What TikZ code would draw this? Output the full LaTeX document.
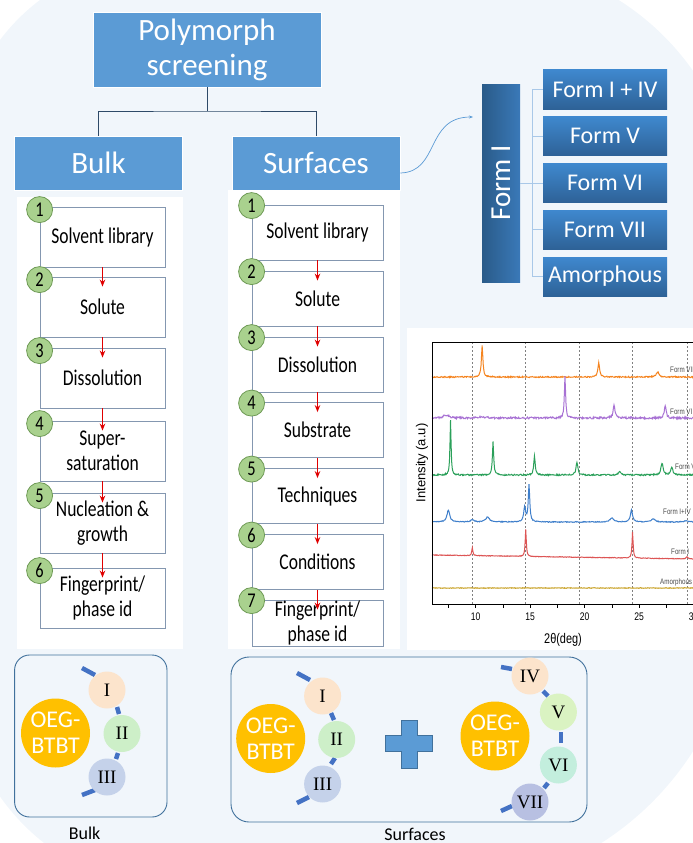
\documentclass[tikz,border=0pt]{standalone}
\usepackage{fontspec}
\setmainfont{Carlito}
\newfontfamily\stepfont[FakeStretch=0.78]{Carlito}
\newfontfamily\romanfont{Liberation Serif}
\newfontfamily\chartfont[FakeStretch=0.78]{Liberation Sans}
\newfontfamily\chartplain{Liberation Sans}
\usetikzlibrary{arrows.meta}

\definecolor{bgblue}{HTML}{F1F6FB}
\definecolor{headblue}{HTML}{5B9BD5}
\definecolor{formtop}{HTML}{3F88CE}
\definecolor{formbot}{HTML}{2E6297}
\definecolor{formItop}{HTML}{3A79B8}
\definecolor{formIbot}{HTML}{2A5B89}
\definecolor{stepgray}{HTML}{8497B0}
\definecolor{stepred}{HTML}{E00000}
\definecolor{numgreen}{HTML}{A9D18E}
\definecolor{numedge}{HTML}{6E9A55}
\definecolor{oegyellow}{HTML}{FFC000}
\definecolor{arcblue}{HTML}{4472C4}
\definecolor{panelblue}{HTML}{41719C}
\definecolor{treeline}{HTML}{2F4A68}
\definecolor{branchline}{HTML}{A9C8E8}
\definecolor{peach}{HTML}{FCE4CC}
\definecolor{mintgreen}{HTML}{CDEFC8}
\definecolor{greyblue}{HTML}{C5D2EA}
\definecolor{limegreen}{HTML}{DAF3C2}
\definecolor{aqua}{HTML}{C3EEDD}
\definecolor{lavender}{HTML}{B8C0E2}
\definecolor{xrdorange}{HTML}{F5841F}
\definecolor{xrdpurple}{HTML}{A872D4}
\definecolor{xrdgreen}{HTML}{2BA05A}
\definecolor{xrdblue}{HTML}{3F7FCB}
\definecolor{xrdred}{HTML}{DD5555}
\definecolor{xrdamber}{HTML}{C9A227}

% Lorentzian peak: centre, height, half width
\newcommand\peakat[3]{#2*#3*#3/(#3*#3+(\x-#1)^2)}

\begin{document}
\begin{tikzpicture}[x=1pt,y=-1pt]
	\clip (0,0) rectangle (693,843);
	% backdrop
	\fill[bgblue, rounded corners=200] (-40,420) |- (400,-40)
		[rounded corners=260] -| (740,450)
		[rounded corners=300] |- (400,890)
		[rounded corners=220] -| (-40,420) -- cycle;

	% heading and branches
	\begin{scope}[every node/.style={draw=white, line width=0.6pt, fill=headblue,
			text=white, inner sep=0pt, align=center, font=\fontsize{31}{35}\selectfont}]
		\node[minimum width=228, minimum height=75] (poly) at (207,49.5) {Polymorph\\screening};
		\node[minimum width=168, minimum height=54] (bulk) at (98.5,163) {Bulk};
		\node[minimum width=168, minimum height=54] (surf) at (316,163) {Surfaces};
	\end{scope}
	\coordinate (fork) at (207,111);
	\draw[treeline, line width=0.9pt] (poly.south) -- (fork) (bulk.north) |- (fork) -| (surf.north);

	% forms found on surfaces
	\node[left color=formIbot, right color=formItop, rotate=90, minimum width=198,
		minimum height=38, inner sep=0pt, text=white, font=\fontsize{29}{32}\selectfont]
		(formI) at (501,183) {Form I};
	\begin{scope}[every node/.style={top color=formtop, bottom color=formbot, text=white,
			minimum width=124, minimum height=39, inner sep=0pt, font=\fontsize{24}{26}\selectfont}]
		\node (fIV) at (605,89.5) {Form I + IV};
		\node (fV) at (605,136) {Form V};
		\node (fVI) at (605,183) {Form VI};
		\node (fVII) at (605,229.5) {Form VII};
		\node (fAm) at (605,276.5) {Amorphous};
	\end{scope}
	\coordinate (spine) at (532,183);
	\coordinate (formtip) at (473,117);
	\begin{scope}[branchline, line width=0.8pt]
		\draw (formI.south) -- (fVI.west);
		\draw (fIV.west) -- (fIV.west -| spine) -- (fAm.west -| spine) -- (fAm.west);
		\foreach \f in {fV,fVII} \draw (\f.west) -- (\f.west -| spine);
	\end{scope}
	\draw[headblue, line width=0.7pt, -{Stealth[length=4pt,width=3pt]}]
		([yshift=-10pt]surf.east) .. controls (440,172) and (425,117) .. (formtip);

	% white panels
	\fill[white] (17,197) rectangle (183,649);
	\fill[white] (228,190) rectangle (400,649);
	\fill[white] (407,328) rectangle (693,650);

	% steps
	\begin{scope}[every node/.style={draw=stepgray, line width=0.8pt, fill=white, minimum width=125,
			minimum height=60, inner sep=0pt, align=center, font=\stepfont\fontsize{22.5}{25}\selectfont}]
		\foreach \i/\y/\txt in {1/237/{Solvent library}, 2/307/Solute, 3/378/Dissolution,
				4/451/{Super-\\saturation}, 5/523/{Nucleation \&\\growth}, 6/598/{Fingerprint/\\phase id}}
			\node (b\i) at (102.5,\y) {\txt};
		\foreach \i/\y/\h/\txt in {1/232.5/55/{Solvent library}, 2/298.5/55/Solute, 3/364.5/55/Dissolution,
				4/430/55/Substrate, 5/496/55/Techniques, 6/562/55/Conditions, 7/623/46/{Fingerprint/\\phase id}}
			\node[minimum width=131, minimum height=\h] (s\i) at (317.5,\y) {\txt};
	\end{scope}
	\begin{scope}[>={Stealth[length=7pt,width=5.5pt]},
			every edge/.style={draw=stepred, line width=1.8pt}]
		\foreach \i [count=\j from 2] in {1,...,5} \path[->] (b\i.south) edge ([yshift=-10pt]b\j.north);
		\foreach \i [count=\j from 2] in {1,...,6} \path[->] (s\i.south) edge ([yshift=-10pt]s\j.north);
	\end{scope}
	\begin{scope}[every node/.style={circle, draw=numedge, fill=numgreen, line width=0.8pt,
			minimum size=26, inner sep=0pt, font=\stepfont\fontsize{21}{21}\selectfont}]
		\foreach \i in {1,...,6} \node (nb\i) at ([yshift=-3pt]b\i.north west) {\i};
		\foreach \i in {1,...,7} \node (ns\i) at ([yshift=-1pt]s\i.north west) {\i};
	\end{scope}

	% diffraction patterns
	\begin{scope}
		\clip (407,328) rectangle (693,650);
		\pgfmathsetseed{7}
		\foreach \t in {9.7,14.6,19.5,24.4,29.4}
			\draw[gray, line width=0.5pt, dash pattern=on 2pt off 2pt] ({366.6+10.9*\t},342) -- ({366.6+10.9*\t},604);
		\begin{scope}[line width=1pt]
			\draw[xrdorange] plot[domain=6:30.2, samples=485] ({366.6+10.9*\x},
				{377-\peakat{10.6}{32}{0.08}-\peakat{21.3}{14}{0.1}-\peakat{26.7}{5}{0.15}+0.6*rand});
			\draw[xrdpurple] plot[domain=6:30.2, samples=485] ({366.6+10.9*\x},
				{418-\peakat{18.2}{41}{0.07}-\peakat{22.7}{13}{0.1}-\peakat{27.4}{12}{0.1}-\peakat{7.3}{3}{0.3}-\peakat{10.6}{1.5}{0.3}+1.0*rand});
			\draw[xrdgreen] plot[domain=6:30.2, samples=485] ({366.6+10.9*\x},
				{475-\peakat{7.7}{55}{0.06}-\peakat{11.6}{33}{0.07}-\peakat{15.4}{19}{0.08}-\peakat{19.3}{13}{0.1}-\peakat{23.2}{3}{0.15}-\peakat{27.1}{12}{0.12}-\peakat{28}{7}{0.12}+0.7*rand});
			\draw[xrdblue] plot[domain=6:30.2, samples=485] ({366.6+10.9*\x},
				{522-\peakat{7.5}{12}{0.15}-\peakat{9.7}{2}{0.2}-\peakat{11.1}{5}{0.2}-\peakat{14.5}{15}{0.1}-\peakat{14.9}{37}{0.08}-\peakat{22.5}{4}{0.2}-\peakat{24.3}{12}{0.12}-\peakat{26.3}{3}{0.2}-\peakat{29.3}{1.5}{0.2}+0.4*rand});
			\draw[xrdred] plot[domain=6:30.2, samples=485] ({366.6+10.9*\x},
				{555+4*(\x-6)/24-\peakat{9.7}{8}{0.06}-\peakat{14.6}{27}{0.06}-\peakat{24.4}{26}{0.06}-\peakat{29.4}{2}{0.1}+0.3*rand});
			\draw[xrdamber] plot[domain=6:30.2, samples=485] ({366.6+10.9*\x}, {588+0.3*rand});
		\end{scope}
		\draw[line width=0.8pt] (720,342) -| (432,604) -- (720,604);
		\foreach \t in {7.5,10,...,30} \draw[line width=0.6pt] ({366.6+10.9*\t},604) -- ++(0,4);
		\begin{scope}[every node/.style={font=\chartfont\fontsize{11}{11}\selectfont}]
			\foreach \t in {10,15,20,25,30} \node (tick\t) at ({366.6+10.9*\t},617) {\t};
		\end{scope}
		\begin{scope}[every node/.style={anchor=west, inner sep=0pt, text=black!70,
				font=\chartfont\fontsize{8}{8}\selectfont}]
			\node (lVII) at (670,370) {Form VII};
			\node (lVI) at (670,412) {Form VI};
			\node (lV) at (675,467) {Form V};
			\node (lIIV) at (663,512) {Form I+IV};
			\node (lI) at (671,552) {Form I};
			\node (lAm) at (660,582) {Amorphous};
		\end{scope}
		\node[rotate=90, font=\chartplain\fontsize{13}{13}\selectfont] (ylab) at (422,463) {Intensity (a.u)};
		\node[font=\chartfont\fontsize{14}{14}\selectfont] (xlab) at (563,640) {2θ(deg)};
	\end{scope}

	% molecule and polymorph sets
	\draw[panelblue, line width=0.9pt, rounded corners=15] (14.6,655) rectangle (167,817);
	\draw[panelblue, line width=0.9pt, rounded corners=18] (231,657) rectangle (587,822);
	\filldraw[fill=headblue, draw=panelblue, line width=0.8pt] (401.2,720) -- (417.6,720) -- (417.6,735)
		-- (432.2,735) -- (432.2,751.7) -- (417.6,751.7) -- (417.6,768.3) -- (401.2,768.3)
		-- (401.2,751.7) -- (385.3,751.7) -- (385.3,735) -- (401.2,735) -- cycle;
	\begin{scope}[arcblue, line width=4.5pt]
		\draw (82,668) -- (95,675);   \draw (117,707) -- (119,714);
		\draw (118,753) -- (116,759); \draw (82,795) -- (95,790);
		\draw (297,673) -- (310,680); \draw (331,713) -- (334,720);
		\draw (335,758) -- (331,764); \draw (297,803) -- (309,797);
		\draw (501,667) -- (512,669); \draw (543,691) -- (548,696);
		\draw (561,732) -- (561,743); \draw (548,783) -- (544,788);
		\draw (501,811) -- (512,806);
	\end{scope}
	\begin{scope}[every node/.style={circle, fill=oegyellow, minimum size=69, inner sep=0pt,
			text=white, align=center, font=\fontsize{24}{26}\selectfont}]
		\node (oegB) at (55.5,733) {OEG-\\BTBT};
		\node (oegL) at (270.7,738.5) {OEG-\\BTBT};
		\node (oegR) at (495,736) {OEG-\\BTBT};
	\end{scope}
	\begin{scope}[every node/.style={circle, minimum size=37, inner sep=0pt,
			font=\romanfont\fontsize{19}{19}\selectfont}]
		\node[fill=peach] (bI) at (107,690) {I};
		\node[fill=mintgreen] (bII) at (122,733.5) {II};
		\node[fill=greyblue] (bIII) at (107,777) {III};
		\node[fill=peach] (sI) at (322.6,696) {I};
		\node[fill=mintgreen] (sII) at (336.7,739.5) {II};
		\node[fill=greyblue] (sIII) at (322.6,784) {III};
		\node[fill=peach] (sIV) at (530,676) {IV};
		\node[fill=limegreen] (sV) at (558.4,712) {V};
		\node[fill=aqua] (sVI) at (558.4,765) {VI};
		\node[fill=lavender] (sVII) at (530,802) {VII};
	\end{scope}
	\node[font=\fontsize{18}{18}\selectfont] (bulkcap) at (84.6,833) {Bulk};
	\node[font=\fontsize{18}{18}\selectfont] (surfcap) at (415,834) {Surfaces};
\end{tikzpicture}
\end{document}
